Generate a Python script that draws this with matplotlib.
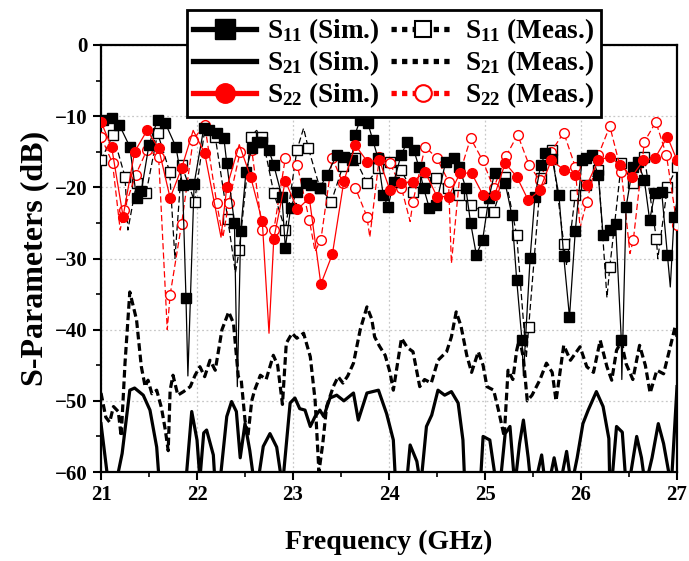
import matplotlib
matplotlib.use("Agg")
import matplotlib.pyplot as plt
from matplotlib.lines import Line2D
import numpy as np

plt.rcParams['font.family'] = ['Liberation Serif', 'DejaVu Serif']
plt.rcParams['font.weight'] = 'bold'
plt.rcParams['mathtext.default'] = 'regular'
plt.rcParams['axes.unicode_minus'] = True

# ---- data (GHz, dB) ----
# S11 simulated: points carrying a marker, plus extra line-only vertices (deep nulls)
s11_sim_f = [21.02, 21.11, 21.19, 21.30, 21.37, 21.42, 21.50, 21.59, 21.67, 21.78, 21.85, 21.885,
             21.97, 22.07, 22.12, 22.21, 22.28, 22.31, 22.39, 22.455, 22.51, 22.57, 22.62, 22.68,
             22.75, 22.80, 22.885, 22.92, 22.975, 23.04, 23.14, 23.19, 23.28, 23.35, 23.455, 23.53,
             23.61, 23.645, 23.70, 23.78, 23.83, 23.885, 23.94, 23.99, 24.05, 24.125, 24.19, 24.26,
             24.31, 24.36, 24.42, 24.49, 24.59, 24.68, 24.73, 24.80, 24.85, 24.91, 24.975, 25.04,
             25.10, 25.21, 25.28, 25.33, 25.385, 25.47, 25.52, 25.58, 25.63, 25.70, 25.77, 25.82,
             25.88, 25.94, 26.01, 26.055, 26.11, 26.18, 26.23, 26.30, 26.36, 26.42, 26.47, 26.54,
             26.59, 26.66, 26.715, 26.77, 26.84, 26.90, 26.97]
s11_sim_db = [-10.5, -10.3, -11.2, -14.3, -21.5, -20.5, -14.0, -10.5, -11.0, -14.3, -19.7, -35.5,
              -19.5, -11.7, -12.0, -12.4, -13.1, -16.6, -25.0, -26.1, -17.8, -14.5, -13.6, -13.6,
              -14.8, -16.9, -21.3, -28.5, -22.9, -20.6, -19.4, -19.7, -20.1, -18.3, -15.5, -15.8,
              -16.2, -12.6, -10.5, -11.0, -13.3, -15.9, -21.1, -22.7, -19.2, -15.5, -13.6, -14.8,
              -17.1, -20.1, -22.9, -22.5, -16.4, -15.9, -17.1, -20.1, -25.0, -29.5, -27.4, -21.5,
              -18.0, -19.4, -23.9, -33.0, -41.5, -29.9, -21.3, -16.9, -15.2, -16.0, -21.1, -29.7,
              -38.2, -26.2, -16.2, -15.9, -15.5, -18.3, -26.7, -26.0, -25.1, -41.5, -22.7, -17.1,
              -16.4, -19.0, -24.6, -20.8, -20.6, -29.5, -24.1]
s11_sim_dip_f = [21.00, 21.905, 22.42, 25.40, 26.425, 26.93, 27.00]
s11_sim_dip_db = [-11.0, -46.5, -48.0, -46.5, -47.0, -34.0, -22.0]

# S11 measured
s11_meas_f = [21.00, 21.125, 21.25, 21.37, 21.47, 21.59, 21.715, 21.84, 21.975, 22.19, 22.32,
              22.44, 22.56, 22.68, 22.80, 22.92, 23.04, 23.16, 23.28, 23.40, 23.52, 23.645, 23.77,
              23.89, 24.01, 24.125, 24.25, 24.37, 24.49, 24.61, 24.73, 24.85, 24.975, 25.09, 25.21,
              25.33, 25.455, 25.58, 25.70, 25.82, 25.94, 26.055, 26.18, 26.30, 26.42, 26.54, 26.66,
              26.785, 26.90, 27.00]
s11_meas_db = [-16.2, -12.6, -18.5, -19.4, -20.8, -12.4, -17.8, -16.9, -22.0, -12.9, -24.4,
               -28.8, -12.9, -12.9, -20.8, -26.0, -14.8, -14.5, -20.1, -22.0, -17.0, -15.9, -19.4,
               -17.3, -16.4, -17.6, -20.6, -19.2, -18.7, -20.1, -21.1, -22.5, -23.4, -23.4, -18.5,
               -26.7, -39.6, -18.7, -14.8, -27.9, -21.1, -19.7, -17.5, -31.2, -16.6, -19.4, -15.7,
               -27.2, -20.0, -17.1]
s11_meas_dip_f = [21.28, 21.77, 22.09, 22.40, 22.62, 23.11, 25.43, 25.85, 26.27, 26.80]
s11_meas_dip_db = [-26.0, -30.0, -11.0, -32.0, -12.0, -11.7, -44.0, -31.0, -35.5, -30.0]

# S22 simulated
s22_sim_f = [21.00, 21.11, 21.23, 21.35, 21.48, 21.60, 21.72, 21.84, 22.08, 22.31, 22.56, 22.68,
             22.80, 22.92, 23.045, 23.17, 23.29, 23.41, 23.53, 23.65, 23.775, 23.90, 24.01, 24.13,
             24.25, 24.375, 24.50, 24.62, 24.74, 24.86, 24.98, 25.10, 25.21, 25.33, 25.45, 25.57,
             25.69, 25.82, 25.94, 26.06, 26.18, 26.30, 26.41, 26.53, 26.65, 26.77, 26.90, 27.00]
s22_sim_db = [-10.8, -14.3, -24.1, -15.0, -12.0, -14.5, -21.5, -17.3, -15.2, -20.0, -18.6, -24.8,
              -27.2, -19.1, -23.1, -21.5, -33.6, -29.4, -19.1, -14.1, -16.4, -16.2, -20.4, -19.4,
              -19.2, -17.8, -21.3, -21.3, -18.0, -18.0, -21.1, -21.1, -16.6, -18.5, -21.8, -20.4,
              -16.2, -17.5, -18.3, -19.7, -16.2, -15.7, -16.9, -18.5, -16.2, -15.9, -12.9, -16.2]
s22_sim_dip_f = [21.96, 22.25, 22.44, 22.75]
s22_sim_dip_db = [-12.0, -27.0, -14.0, -40.5]

# S22 measured
s22_meas_f = [21.00, 21.12, 21.24, 21.36, 21.48, 21.60, 21.72, 21.84, 21.96, 22.08, 22.205, 22.33,
              22.45, 22.57, 22.68, 22.80, 22.92, 23.045, 23.17, 23.29, 23.41, 23.52, 23.65, 23.77,
              23.90, 24.01, 24.13, 24.25, 24.375, 24.50, 24.62, 24.74, 24.85, 24.975, 25.09, 25.22,
              25.34, 25.46, 25.57, 25.69, 25.82, 25.94, 26.06, 26.18, 26.30, 26.42, 26.545, 26.66,
              26.78, 26.89, 27.00]
s22_meas_db = [-12.9, -16.6, -23.2, -18.3, -14.7, -15.7, -35.1, -25.1, -13.3, -11.2, -22.2, -22.2,
               -15.0, -14.7, -26.0, -26.0, -15.9, -16.9, -24.6, -27.4, -15.9, -19.4, -20.1, -24.1,
               -15.7, -16.6, -20.1, -22.0, -14.3, -15.9, -19.2, -17.9, -13.1, -16.2, -20.1, -15.6,
               -12.6, -16.9, -19.0, -15.0, -12.3, -17.1, -22.0, -15.5, -11.4, -17.8, -27.4, -13.6,
               -10.8, -15.5, -25.3]
s22_meas_dip_f = [21.20, 21.69, 22.27, 23.23, 23.80, 24.22, 24.65, 25.99, 26.51]
s22_meas_dip_db = [-26.0, -40.0, -27.0, -29.0, -27.0, -24.8, -30.7, -25.7, -29.3]

# S21 simulated (no markers)
s21_sim_f = [21.00, 21.08, 21.15, 21.22, 21.30, 21.35, 21.44, 21.51, 21.58, 21.61, 21.88, 21.945,
             22.00, 22.03, 22.07, 22.10, 22.17, 22.19, 22.25, 22.31, 22.36, 22.41, 22.45, 22.50,
             22.55, 22.60, 22.65, 22.69, 22.76, 22.83, 22.89, 22.97, 23.02, 23.07, 23.125, 23.18,
             23.23, 23.28, 23.32, 23.385, 23.455, 23.53, 23.63, 23.68, 23.77, 23.89, 23.975, 24.045,
             24.07, 24.18, 24.22, 24.29, 24.33, 24.39, 24.445, 24.51, 24.58, 24.65, 24.72, 24.77,
             24.79, 24.95, 24.98, 25.05, 25.12, 25.17, 25.21, 25.26, 25.31, 25.36, 25.40, 25.45,
             25.48, 25.55, 25.59, 25.63, 25.66, 25.72, 25.78, 25.85, 25.90, 25.96, 26.02, 26.075,
             26.16, 26.23, 26.29, 26.30, 26.33, 26.37, 26.43, 26.47, 26.52, 26.58, 26.63, 26.67,
             26.74, 26.805, 26.86, 26.94, 26.97, 27.00]
s21_sim_db = [-53.2, -62.0, -62.0, -57.4, -48.5, -48.2, -49.2, -51.3, -56.5, -62.0, -62.0, -51.5,
              -55.5, -61.0, -54.5, -54.1, -57.6, -62.0, -60.0, -52.2, -50.1, -51.5, -58.0, -53.2,
              -57.0, -62.0, -60.0, -56.4, -54.6, -56.5, -62.0, -50.3, -49.6, -51.1, -51.3, -53.6,
              -52.2, -51.3, -52.2, -49.6, -49.2, -50.0, -48.9, -52.7, -48.9, -48.5, -51.8, -55.5,
              -62.0, -62.0, -56.2, -58.5, -62.0, -53.6, -52.0, -48.5, -49.2, -48.7, -50.3, -55.5,
              -62.0, -62.0, -55.0, -55.5, -62.0, -60.0, -54.6, -53.6, -62.0, -56.0, -52.7, -58.0,
              -62.0, -60.0, -57.6, -62.0, -62.0, -58.0, -62.0, -57.1, -62.0, -58.0, -53.2, -51.3,
              -48.7, -50.8, -55.3, -62.0, -60.0, -53.6, -54.4, -62.0, -60.0, -55.0, -58.0, -62.0,
              -58.0, -53.2, -56.0, -62.0, -55.0, -48.0]

# S21 measured (no markers)
s21_meas_f = [21.00, 21.05, 21.09, 21.13, 21.18, 21.21, 21.25, 21.30, 21.37, 21.42, 21.46, 21.49,
              21.53, 21.58, 21.63, 21.67, 21.70, 21.72, 21.75, 21.80, 21.86, 21.93, 21.98, 22.03,
              22.08, 22.135, 22.19, 22.26, 22.33, 22.38, 22.43, 22.46, 22.50, 22.53, 22.57, 22.60,
              22.66, 22.72, 22.795, 22.84, 22.89, 22.93, 22.99, 23.04, 23.11, 23.18, 23.23, 23.27,
              23.31, 23.35, 23.42, 23.47, 23.52, 23.57, 23.63, 23.70, 23.77, 23.82, 23.85, 23.90,
              23.96, 24.01, 24.045, 24.13, 24.19, 24.25, 24.32, 24.37, 24.44, 24.51, 24.60, 24.65,
              24.70, 24.75, 24.81, 24.86, 24.93, 24.98, 25.02, 25.09, 25.14, 25.20, 25.24, 25.29,
              25.33, 25.36, 25.40, 25.44, 25.49, 25.57, 25.64, 25.70, 25.74, 25.82, 25.89, 25.99,
              26.06, 26.13, 26.20, 26.27, 26.32, 26.37, 26.42, 26.47, 26.54, 26.61, 26.67, 26.72,
              26.79, 26.86, 26.93, 26.98, 27.00]
s21_meas_db = [-48.9, -52.3, -53.0, -50.8, -51.5, -55.0, -44.7, -34.7, -38.6, -45.2, -48.0, -47.1,
               -49.0, -48.5, -51.0, -54.1, -57.0, -48.5, -46.4, -49.2, -48.7, -48.0, -46.4, -45.2,
               -46.6, -44.3, -45.7, -40.0, -37.5, -39.1, -46.6, -47.0, -52.7, -55.0, -50.0, -48.5,
               -46.4, -47.0, -43.6, -45.0, -50.5, -41.9, -40.5, -41.2, -40.5, -43.8, -49.9, -60.0,
               -56.0, -50.8, -48.0, -46.6, -47.5, -46.5, -44.7, -40.0, -36.8, -38.5, -41.0, -42.3,
               -43.6, -46.0, -48.5, -41.2, -42.5, -43.1, -48.0, -47.0, -47.5, -44.3, -43.1, -41.0,
               -37.5, -39.5, -43.6, -46.0, -43.1, -45.0, -48.0, -48.5, -51.3, -55.0, -45.7, -47.0,
               -42.9, -41.2, -44.0, -50.0, -49.2, -47.1, -44.7, -46.0, -50.0, -42.2, -44.3, -42.4,
               -45.2, -46.0, -41.5, -45.2, -47.1, -42.9, -41.7, -44.8, -47.0, -42.2, -45.0, -48.9,
               -45.7, -46.2, -42.4, -39.6, -41.0]

x_ticks = [21, 22, 23, 24, 25, 26, 27]
y_ticks = [0, -10, -20, -30, -40, -50, -60]
labels = ['S$_{11}$ (Sim.)', 'S$_{21}$ (Sim.)', 'S$_{22}$ (Sim.)',
          'S$_{11}$ (Meas.)', 'S$_{21}$ (Meas.)', 'S$_{22}$ (Meas.)']


def merge(f, db, dip_f, dip_db):
    # combine marker points and line-only points, return sorted arrays + marker indices
    allf = np.array(list(f) + list(dip_f))
    alld = np.array(list(db) + list(dip_db))
    is_mark = np.array([True] * len(f) + [False] * len(dip_f))
    order = np.argsort(allf, kind='stable')
    return allf[order], alld[order], list(np.where(is_mark[order])[0])


fig = plt.figure(figsize=(6.89, 5.61), dpi=100)
ax = fig.add_axes([0.1466, 0.1586, 0.836, 0.7612])

# S21 curves (thick)
ax.plot(s21_sim_f, s21_sim_db, color='k', lw=2.3, zorder=2)
ax.plot(s21_meas_f, s21_meas_db, color='k', lw=2.3, ls=(0, (2.4, 1.2)), zorder=2)

# S11 / S22 curves (thin with markers)
f, d, mk = merge(s11_meas_f, s11_meas_db, s11_meas_dip_f, s11_meas_dip_db)
ax.plot(f, d, color='k', lw=0.9, ls=(0, (5, 2.5)), marker='s', ms=6.5, mfc='white',
        mec='k', mew=1.0, markevery=mk, zorder=3)
f, d, mk = merge(s22_meas_f, s22_meas_db, s22_meas_dip_f, s22_meas_dip_db)
ax.plot(f, d, color='red', lw=0.9, ls=(0, (5, 2.5)), marker='o', ms=7, mfc='white',
        mec='red', mew=1.0, markevery=mk, zorder=3)
f, d, mk = merge(s11_sim_f, s11_sim_db, s11_sim_dip_f, s11_sim_dip_db)
ax.plot(f, d, color='k', lw=0.9, marker='s', ms=6.5, markevery=mk, zorder=4)
f, d, mk = merge(s22_sim_f, s22_sim_db, s22_sim_dip_f, s22_sim_dip_db)
ax.plot(f, d, color='red', lw=0.9, marker='o', ms=7, markevery=mk, zorder=4)

ax.set_xlim(21, 27)
ax.set_ylim(-60, 0)
ax.set_xticks(x_ticks)
ax.set_yticks(y_ticks)
ax.set_xticks(np.arange(21.5, 27, 1), minor=True)
ax.set_yticks(np.arange(-55, 0, 10), minor=True)
ax.tick_params(which='major', direction='out', length=6, width=1.5, labelsize=15)
ax.tick_params(which='minor', direction='out', length=3.5, width=1.2)
for lab in ax.get_xticklabels() + ax.get_yticklabels():
    lab.set_fontweight('bold')
for sp in ax.spines.values():
    sp.set_linewidth(1.6)
ax.grid(True, which='major', color='#c8c8c8', ls=(0, (1.5, 2)), lw=0.9)
ax.set_axisbelow(True)

ax.set_xlabel('Frequency (GHz)', fontsize=20, fontweight='bold', labelpad=18)
ax.set_ylabel('S-Parameters (dB)', fontsize=23, fontweight='bold', labelpad=4)

handles = [
    Line2D([], [], color='k', lw=3.8, marker='s', ms=14),
    Line2D([], [], color='k', lw=3.8),
    Line2D([], [], color='red', lw=3.8, marker='o', ms=14),
    Line2D([], [], color='k', lw=3.8, ls=(0, (1, 1)), marker='s', ms=12, mfc='white', mew=1.5),
    Line2D([], [], color='k', lw=3.8, ls=(0, (1, 1))),
    Line2D([], [], color='red', lw=3.8, ls=(0, (1, 1)), marker='o', ms=12, mfc='white',
           mec='red', mew=1.5),
]
leg = ax.legend(handles, labels, ncol=2, loc='upper center', bbox_to_anchor=(0.508, 1.082),
                prop={'family': 'Liberation Serif', 'weight': 'bold', 'size': 19.5},
                frameon=True, fancybox=False, edgecolor='k', framealpha=1,
                handlelength=2.3, handletextpad=0.4, columnspacing=0.45, labelspacing=0.08,
                borderpad=0.25, borderaxespad=0)
leg.get_frame().set_linewidth(2)
leg.set_zorder(10)

fig.savefig('out.png', dpi=100)
